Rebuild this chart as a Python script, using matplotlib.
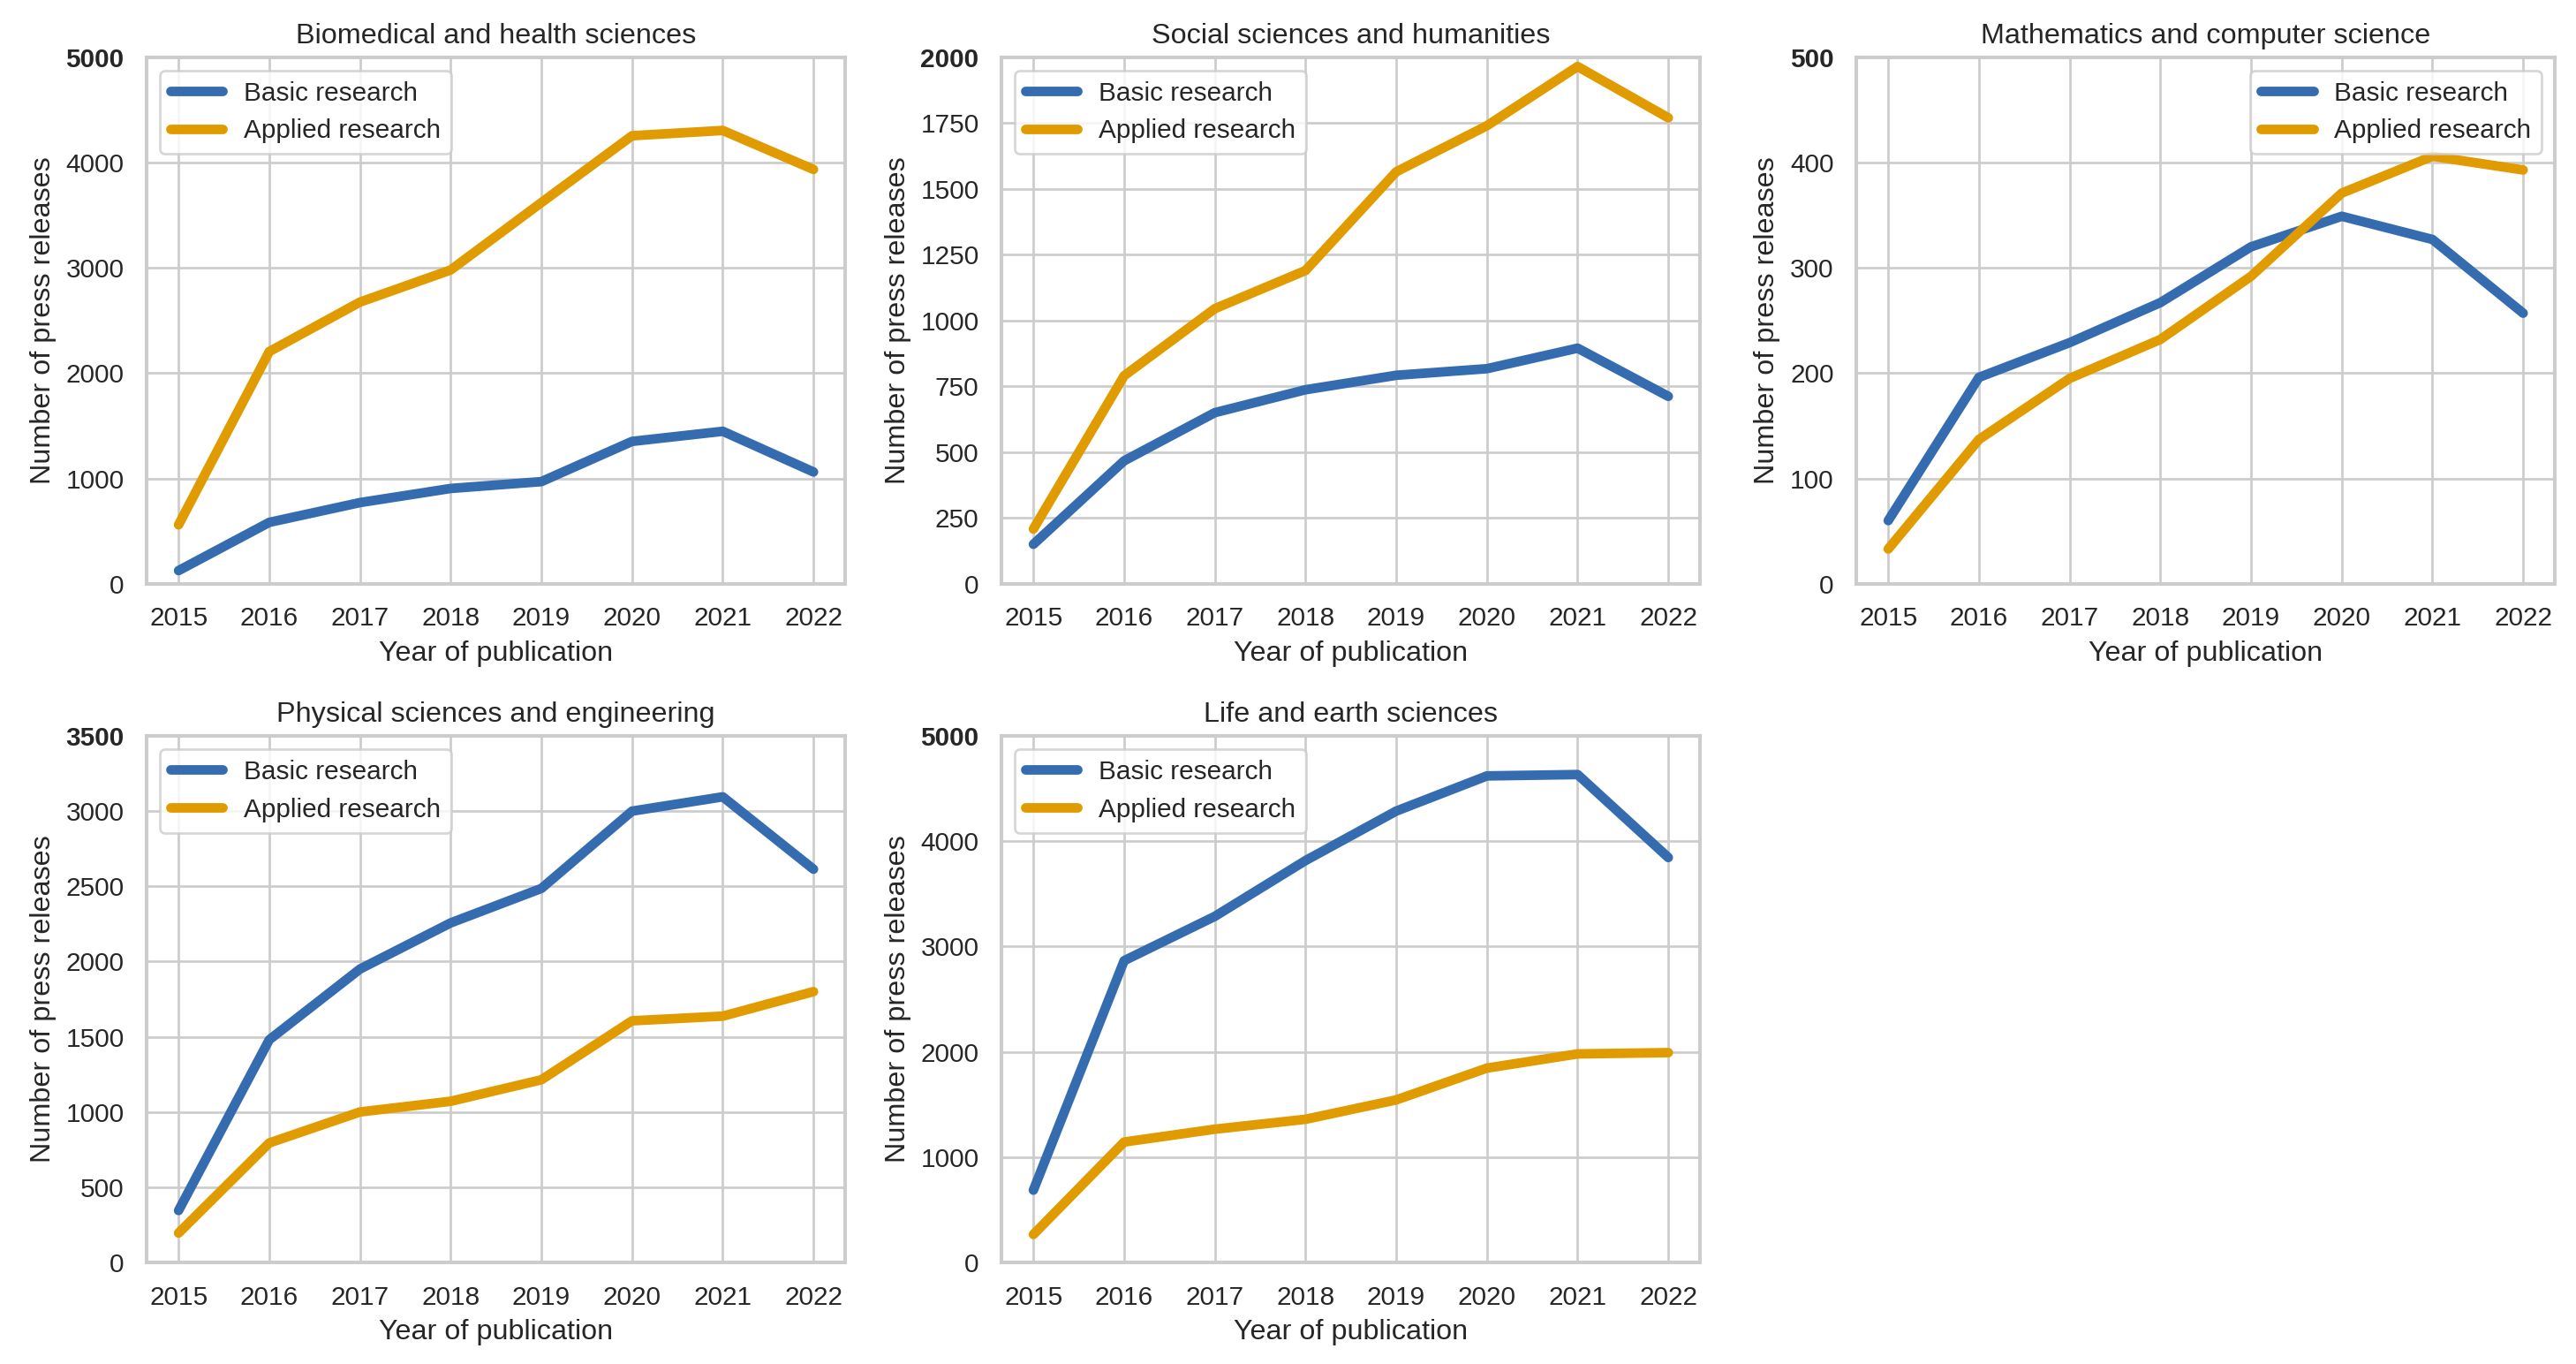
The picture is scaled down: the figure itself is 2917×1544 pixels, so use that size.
import matplotlib
matplotlib.use("Agg")
import seaborn as sns
from matplotlib import pyplot as plt

years = [2015, 2016, 2017, 2018, 2019, 2020, 2021, 2022]

fields = ["Biomedical and health sciences",
          "Social sciences and humanities",
          "Mathematics and computer science",
          "Physical sciences and engineering",
          "Life and earth sciences"]

basic_biomed = [125, 583, 771, 905, 970, 1352, 1448, 1062]
applied_biomed = [560, 2205, 2675, 2980, 3620, 4255, 4305, 3935]

basic_social = [150, 467, 650, 737, 792, 817, 895, 712]
applied_social = [208, 790, 1045, 1190, 1565, 1740, 1965, 1770]

basic_math = [60, 196, 229, 267, 320, 349, 327, 257]
applied_math = [33, 137, 195, 232, 292, 371, 406, 393]

basic_phys = [345, 1480, 1950, 2257, 2486, 3000, 3095, 2614]
applied_phys = [195, 794, 1000, 1071, 1214, 1606, 1637, 1800]

basic_life = [686, 2865, 3286, 3816, 4286, 4620, 4633, 3845]
applied_life = [265, 1143, 1265, 1359, 1543, 1845, 1980, 1992]

basic = [basic_biomed, basic_social, basic_math, basic_phys, basic_life]
applied = [applied_biomed, applied_social, applied_math, applied_phys, applied_life]
ymax = [5000, 2000, 500, 3500, 5000]
legend_loc = ["upper left", "upper left", "upper right", "upper left", "upper left"]

sns.set_theme(style="whitegrid")
plt.rcParams['font.family'] = ['Liberation Sans', 'DejaVu Sans']

BLUE = "#356CB0"
ORANGE = "#E09B00"

fig, axes = plt.subplots(2, 3, figsize=(2917 / 194.5, 1544 / 194.5), dpi=194.5)
fig.subplots_adjust(left=0.057, right=0.9918, top=0.958, bottom=0.0745,
                    wspace=0.224, hspace=0.289)
axes = axes.flatten()

for i in range(len(fields)):
    ax = axes[i]
    ax.plot(years, basic[i], color=BLUE, lw=4, label="Basic research")
    ax.plot(years, applied[i], color=ORANGE, lw=4, label="Applied research")
    ax.set_title(fields[i], fontsize=12)
    ax.set_xlabel("Year of publication", fontsize=12)
    ax.set_ylabel("Number of press releases", fontsize=12)
    ax.set_xticks(years)
    ax.set_ylim(0, ymax[i])
    ax.tick_params(labelsize=11)
    for side in ax.spines.values():
        side.set_color("0.8")
        side.set_linewidth(1.5)
    ax.legend(loc=legend_loc[i], fontsize=11)
    fig.canvas.draw()
    labels = ax.get_yticklabels()
    labels[-1].set_fontweight("bold")

axes[5].remove()

plt.savefig("out.png", dpi=194.5)
